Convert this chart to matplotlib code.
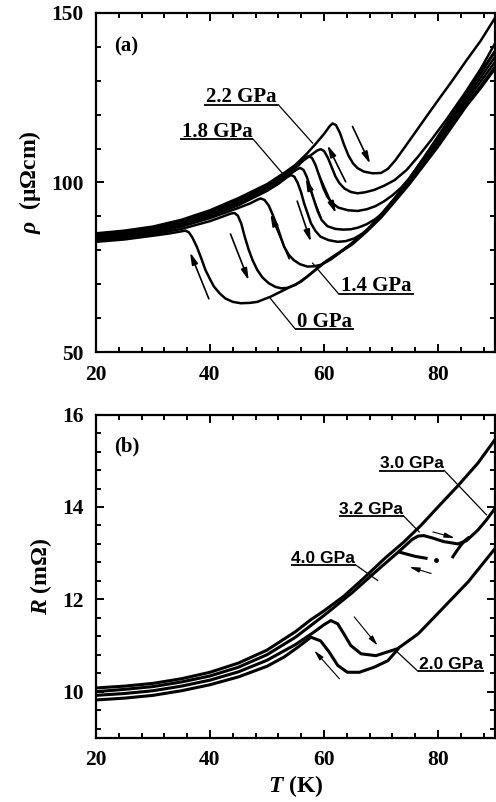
import matplotlib.pyplot as plt
from matplotlib.ticker import MultipleLocator

plt.rcParams['font.family'] = ['Liberation Serif', 'DejaVu Serif']
plt.rcParams['font.weight'] = 'bold'
plt.rcParams['mathtext.fontset'] = 'custom'
plt.rcParams['mathtext.it'] = 'Liberation Serif:italic:bold'
plt.rcParams['mathtext.rm'] = 'Liberation Serif:bold'

# ---- panel (a): rho(T), heating / cooling branches ----
Ta1 = [20, 25, 30, 33, 35, 35.7, 36.3, 36.9, 37.7, 38.5, 39.2, 40, 40.7, 41.7, 42.7, 44, 45.4, 47, 48.3, 50.6,
       53.6, 56, 58, 60, 62.5, 65, 67.5, 70, 72.5, 75, 77.5, 80, 82.5, 85, 87.5, 90]
ra1 = [82.5, 83.2, 84.3, 85.0, 85.6, 85.8, 85.3, 83.8, 81, 77.5, 74.2, 71.5, 69.3, 67.3, 65.8, 64.8, 64.4, 64.5, 64.8, 66.3,
       68.8, 70.8, 73.5, 76.2, 79, 81.8, 85.5, 89.6, 94.5, 99.5, 105, 110.5, 116.5, 122.5, 127.8, 133.5]
Ta2 = [20, 25, 30, 35, 40, 42, 43.6, 44.3, 44.9, 45.5, 46.1, 46.8, 47.5, 48.3, 49.2, 50.3, 51.5, 52.5, 53.5, 55,
       57, 60, 62.5, 65, 67.5, 70, 72.5, 75, 77.5, 80, 82.5, 85, 87.5, 90]
ra2 = [82.8, 83.5, 84.7, 86.3, 88.6, 89.8, 90.8, 91, 90.2, 87.8, 84, 80.1, 77, 74.2, 72, 70.3, 69.2, 68.8, 68.9, 69.8,
       72.2, 76.4, 79.2, 82.1, 85.8, 90, 94.8, 99.9, 105.5, 111, 117, 123, 128.5, 134.2]
Ta3 = [20, 25, 30, 35, 40, 45, 47, 48.3, 48.9, 49.6, 50.3, 51, 51.8, 52.4, 53, 53.8, 54.7, 55.8, 57.1, 58.3,
       59.4, 61.2, 63, 65, 67.5, 70, 72.5, 75, 77.5, 80, 82.5, 85, 87.5, 90]
ra3 = [83.2, 84, 85.2, 87, 89.5, 92.5, 93.8, 94.9, 95.3, 94.8, 93.2, 90.5, 87, 84, 81.1, 78.7, 77.1, 75.9, 75.2, 75.3,
       75.7, 77.3, 79.6, 82.3, 86, 90.3, 95.2, 100.4, 106, 111.8, 117.8, 124, 129.8, 135.5]
Ta4 = [20, 25, 30, 35, 40, 45, 50, 52, 53.5, 54.2, 54.8, 55.4, 56, 56.5, 57.1, 57.7, 58.5, 59.4, 60.8, 62.4,
       63.8, 65.3, 66.8, 68.2, 70, 72.5, 75, 77.5, 80, 82.5, 85, 87.5, 90]
ra4 = [83.6, 84.4, 85.6, 87.4, 90, 93.3, 97.5, 99.6, 101.5, 102.2, 101.7, 99.8, 97, 93.9, 91, 88, 85.7, 84, 83, 82.5,
       82.7, 83.5, 85, 87, 90.6, 95.6, 100.9, 106.6, 112.5, 118.7, 125, 131, 137]
Ta5 = [20, 25, 30, 35, 40, 45, 50, 53, 55.1, 55.8, 56.4, 57, 57.6, 58.3, 58.9, 59.6, 60.6, 62, 63.4, 64.7,
       66, 67.5, 69, 70.5, 72.5, 75, 77.5, 80, 82.5, 85, 87.5, 90]
ra5 = [84, 84.8, 86, 87.8, 90.5, 93.9, 98, 101.2, 103.7, 104.3, 103.7, 101.6, 98.3, 94.5, 91.5, 88.9, 87.1, 86.3, 86.1, 86.2,
       86.7, 87.7, 89.2, 91.3, 95.4, 101.2, 107.2, 113.3, 119.6, 126, 132.2, 138.5]
Ta6 = [20, 25, 30, 35, 40, 45, 50, 53, 55.5, 56.7, 57.3, 57.9, 58.5, 59.2, 59.9, 60.6, 61.4, 62.5, 64.2, 65.9,
       67.5, 69, 70.5, 72, 73.5, 75, 77.5, 80, 82.5, 85, 87.5, 90]
ra6 = [84.3, 85.1, 86.4, 88.2, 91, 94.5, 98.7, 101.8, 105, 107.2, 107.8, 107.2, 105.2, 101.8, 98.3, 95.8, 94, 92.6, 91.8, 91.6,
       92.1, 93, 94.4, 96.2, 98.4, 101.3, 107.3, 113.6, 120, 126.5, 132.6, 138.8]
Ta7 = [20, 25, 30, 35, 40, 45, 50, 53, 55, 57.5, 58.8, 59.4, 60, 60.7, 61.4, 62, 62.7, 63.6, 64.7, 65.9,
       67.2, 68.8, 70.5, 72.4, 74.5, 76.5, 78.8, 81.5, 84.7, 87.5, 90]
ra7 = [84.6, 85.4, 86.7, 88.6, 91.4, 95, 99.2, 102.5, 104.8, 107.8, 109.4, 109.8, 109.3, 107.2, 104.3, 101.8, 99.8, 98.2, 97.2, 96.8,
       97.1, 97.8, 99, 100.7, 103.7, 107.6, 112.5, 118.6, 126.3, 133.5, 141]
Ta8 = [20, 25, 30, 35, 40, 45, 50, 53, 55, 57, 58.5, 60, 61, 61.5, 62.1, 62.8, 63.5, 64.3, 65.1, 65.9, 67,
       68.5, 70, 71.2, 72.5, 74, 75.9, 78, 80, 82.5, 85, 87.5, 90]
ra8 = [85, 85.8, 87, 89, 91.8, 95.4, 99.5, 102.8, 105.2, 108.5, 111.3, 114.3, 116.6, 117.4, 116.9, 114.6, 111.2, 107.9, 105.6, 104.2, 103.2,
       102.7, 102.8, 104, 106.5, 110, 114.5, 119.5, 124.2, 130, 136, 141.8, 148.5]
curves_a = [(Ta1, ra1), (Ta2, ra2), (Ta3, ra3), (Ta4, ra4), (Ta5, ra5), (Ta6, ra6), (Ta7, ra7), (Ta8, ra8)]

# arrows (tail -> head)
arrows_a = [((39.8, 65.7), (36.5, 79.4)), ((43.6, 84.8), (46.8, 71.1)),
            ((53.9, 77.5), (50.6, 90.7)), ((55.3, 94.5), (57.7, 82.5)),
            ((59.4, 89.9), (56.8, 101.2)), ((58.9, 103.2), (62.1, 90.9)),
            ((63.8, 100.2), (60.6, 111.0)), ((65.0, 116.5), (68.1, 105.5))]
# label, underline x0, x1, y, leader start side, leader target
labels_a = [('2.2 GPa', 39.0, 52.0, 122.9, 'r', (58.0, 111.6)),
            ('1.8 GPa', 34.8, 47.6, 112.7, 'r', (52.7, 102.7)),
            ('1.4 GPa', 62.6, 75.8, 67.1, 'l', (58.0, 76.2)),
            ('0 GPa', 55.0, 65.2, 56.7, 'l', (50.6, 65.8))]

# ---- panel (b): R(T) ----
Tb40 = [20, 25, 30, 35, 40, 45, 50, 55, 57.6, 60, 63.5, 67, 70.6, 74, 77, 80, 83.5, 87, 90]
Rb40 = [10.08, 10.12, 10.18, 10.28, 10.42, 10.62, 10.9, 11.3, 11.55, 11.75, 12.07, 12.46, 12.88, 13.24, 13.6, 14.0, 14.46, 14.95, 15.46]
Tb32 = [20, 25, 30, 35, 40, 45, 50, 55, 60, 65, 70, 73, 75.5, 76.5, 77.5, 79, 81, 83.5, 85, 87, 88.5, 90]
Rb32 = [10.0, 10.05, 10.11, 10.21, 10.34, 10.53, 10.8, 11.18, 11.65, 12.15, 12.7, 13.02, 13.3, 13.37, 13.38, 13.33, 13.25, 13.2, 13.27, 13.5, 13.72, 13.97]
Tb32c = [73.3, 74.5, 76, 77.9]
Rb32c = [13.02, 12.98, 12.93, 12.89]
Tb_dots = [79.7]
Rb_dots = [12.85]
Tb30 = [82.6, 83.3, 84, 84.7, 85.3]
Rb30 = [12.92, 13.05, 13.17, 13.27, 13.33]
Tb20h = [20, 25, 30, 35, 40, 45, 50, 55, 58, 60, 61.2, 62.4, 63.5, 64.7, 66.5, 69.1, 72.9, 76.5, 79.4, 85.3, 90]
Rb20h = [9.92, 9.96, 10.02, 10.12, 10.25, 10.43, 10.68, 11.02, 11.27, 11.45, 11.54, 11.47, 11.25, 11.0, 10.82, 10.78, 10.93, 11.25, 11.62, 12.38, 13.1]
Tb20c = [20, 25, 30, 35, 40, 45, 50, 53, 55.5, 57.7, 59.4, 60.9, 62.4, 64.1, 66.2, 68.8, 71.2, 72.9]
Rb20c = [9.82, 9.86, 9.92, 10.02, 10.15, 10.32, 10.55, 10.75, 10.97, 11.18, 11.1, 10.86, 10.57, 10.42, 10.42, 10.53, 10.67, 10.91]
curves_b = [(Tb40, Rb40), (Tb32, Rb32), (Tb32c, Rb32c), (Tb30, Rb30), (Tb20h, Rb20h), (Tb20c, Rb20c)]

arrows_b = [((79.1, 13.46), (82.9, 13.33)), ((78.8, 12.56), (75.0, 12.70)),
            ((65.3, 11.62), (69.4, 11.0)), ((62.7, 10.28), (58.3, 10.89))]
labels_b = [('3.0 GPa', 69.6, 81.1, 14.79, 'r', (88.5, 13.83)),
            ('3.2 GPa', 62.6, 74.0, 13.80, 'r', (76.7, 13.46)),
            ('4.0 GPa', 54.2, 65.6, 12.74, 'r', (69.4, 12.41)),
            ('2.0 GPa', 76.5, 88.0, 10.44, 'l', (72.6, 10.89))]


def style_axes(ax):
    for s in ax.spines.values():
        s.set_linewidth(1.6)
    ax.tick_params(which='both', direction='in', top=True, right=True, width=1.4,
                   labelsize=15.5, pad=9)
    ax.tick_params(which='major', length=6)
    ax.tick_params(which='minor', length=3.5)
    ax.set_xlim(20, 90)
    ax.xaxis.set_major_locator(MultipleLocator(20))
    ax.xaxis.set_minor_locator(MultipleLocator(4))
    for t in ax.get_xticklabels() + ax.get_yticklabels():
        t.set_fontweight('bold')


def add_labels(ax, labels, dy, fam, fs):
    for text, x0, x1, y, side, tgt in labels:
        ax.text((x0 + x1) / 2, y + dy, text, ha='center', va='baseline',
                fontsize=fs, fontweight='bold', family=fam)
        ax.plot([x0, x1], [y, y], color='k', lw=1.3, solid_capstyle='butt')
        xs = x1 if side == 'r' else x0
        ax.plot([xs, tgt[0]], [y, tgt[1]], color='k', lw=0.9)


fig = plt.figure(figsize=(4.96, 8.02), dpi=100)
ax1 = fig.add_axes([0.1935, 0.561, 0.8045, 0.423])
ax2 = fig.add_axes([0.1935, 0.080, 0.8045, 0.403])

for T, r in curves_a:
    ax1.plot(T, r, color='k', lw=1.8)
for tail, head in arrows_a:
    ax1.annotate('', xy=head, xytext=tail,
                 arrowprops=dict(arrowstyle='-|>,head_length=0.7,head_width=0.18',
                                 lw=1.2, color='k', shrinkA=0, shrinkB=0))
add_labels(ax1, labels_a, 0.8, ['Liberation Serif'], 15)
style_axes(ax1)
ax1.set_ylim(50, 150)
ax1.yaxis.set_major_locator(MultipleLocator(50))
ax1.yaxis.set_minor_locator(MultipleLocator(10))
ax1.set_ylabel(r'$\rho$  (μΩcm)', fontsize=17, fontweight='bold', labelpad=6)
ax1.text(0.045, 0.885, '(a)', transform=ax1.transAxes, fontsize=15, fontweight='bold')

for T, R in curves_b:
    ax2.plot(T, R, color='k', lw=2.2)
ax2.plot(Tb_dots, Rb_dots, 'o', color='k', ms=2.5)
for tail, head in arrows_b:
    ax2.annotate('', xy=head, xytext=tail,
                 arrowprops=dict(arrowstyle='-|>,head_length=0.6,head_width=0.15',
                                 lw=0.8, color='k', shrinkA=0, shrinkB=0))
add_labels(ax2, labels_b, 0.045, ['Liberation Sans'], 12.5)
style_axes(ax2)
ax2.set_ylim(9, 16)
ax2.yaxis.set_major_locator(MultipleLocator(2))
ax2.yaxis.set_minor_locator(MultipleLocator(0.4))
ax2.set_ylabel(r'$R$ (mΩ)', fontsize=17, fontweight='bold', labelpad=6)
ax2.set_xlabel(r'$T$ (K)', fontsize=17, fontweight='bold', labelpad=2)
ax2.text(0.045, 0.885, '(b)', transform=ax2.transAxes, fontsize=15, fontweight='bold')

fig.savefig('out.png', dpi=100)
